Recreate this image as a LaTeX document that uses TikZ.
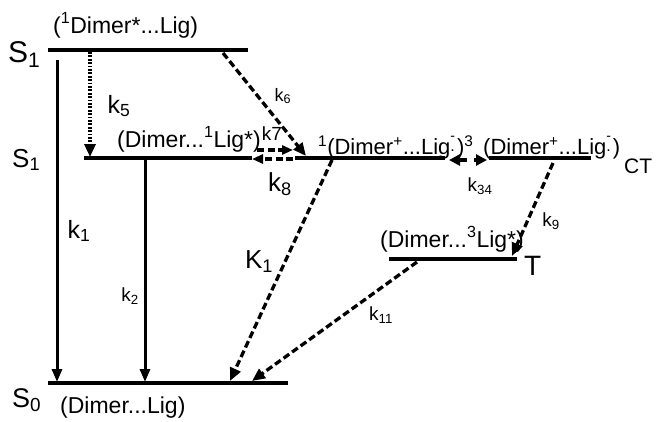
\documentclass[tikz,border=0pt]{standalone}
\usepackage{fontspec}
\setmainfont{Liberation Sans}
\usetikzlibrary{arrows.meta}
\newcommand{\ligrad}{Lig\makebox[0.3em][l]{\rlap{\raisebox{0.62em}{\fontsize{14}{14}\selectfont -}}\raisebox{0.12em}{\fontsize{16}{16}\selectfont .}}}
\begin{document}
\begin{tikzpicture}[x=1pt,y=-1pt,
  level/.style={line width=4.6pt},
  solidarr/.style={line width=3pt,-{Triangle[length=13pt,width=10pt]}},
  dasharr/.style={line width=3.3pt,dash pattern=on 7pt off 3.5pt,-{Triangle[length=13pt,width=11pt]}},
  dotarr/.style={line width=3.2pt,dash pattern=on 1.8pt off 1.6pt,-{Triangle[length=13pt,width=11pt]}},
  headarr/.style={line width=3.2pt,-{Triangle[length=11pt,width=11pt]}},
  lab/.style={inner sep=0pt,font=\fontsize{23}{26}\selectfont},
  kl/.style={inner sep=0pt,font=\fontsize{#1}{#1}\selectfont},
  kl/.default=20]
\useasboundingbox (0,0) rectangle (656,421);
% levels
\coordinate (s1a) at (48,50);  \coordinate (s1b) at (248,50);
\coordinate (m1a) at (84,158); \coordinate (m1b) at (252,158);
\coordinate (m2a) at (295,158);\coordinate (m2b) at (445,158);
\coordinate (cta) at (489,158);\coordinate (ctb) at (591,158);
\coordinate (ta) at (389,259); \coordinate (tb) at (517,259);
\coordinate (s0a) at (48,383); \coordinate (s0b) at (288,383);
\draw[level] (s1a)--(s1b);
\draw[level] (m1a)--(m1b);
\draw[level] (m2a)--(m2b);
\draw[level] (cta)--(ctb);
\draw[level] (ta)--(tb);
\draw[level] (s0a)--(s0b);
% state labels
\node[kl=30,anchor=base west] (ls1) at (8,62) {S\textsubscript{1}};
\node[kl=26,anchor=base west] (ls1m) at (12,167) {S\textsubscript{1}};
\node[kl=27,anchor=base west] (ls0) at (12,407) {S\textsubscript{0}};
\node[kl=28,anchor=base west] (lt) at (524,275) {T};
\node[kl=21,anchor=base west] (lct) at (624,173) {CT};
\node[lab,anchor=base west] (t1) at (53,33) {(\textsuperscript{1}Dimer*...Lig)};
\node[lab,anchor=base west] (t2) at (117,147) {(Dimer...\textsuperscript{1}Lig*)};
\node[lab,font=\fontsize{22}{24}\selectfont,anchor=base west] (t3) at (318,154) {\textsuperscript{1}(Dimer\textsuperscript{+}...\ligrad)\textsuperscript{3}};
\node[lab,font=\fontsize{22}{24}\selectfont,anchor=base west] (t4) at (483,154) {(Dimer\textsuperscript{+}...\ligrad)};
\node[lab,anchor=base west] (t5) at (380,247) {(Dimer...\textsuperscript{3}Lig*)};
\node[lab,anchor=base west] (t6) at (60,413) {(Dimer...Lig)};
% arrow end points
\coordinate (k1s) at (57,60);   \coordinate (k1e) at (57,382);
\coordinate (k2s) at (145,158); \coordinate (k2e) at (145,382);
\coordinate (k5s) at (90,52);   \coordinate (k5e) at (90,157);
\coordinate (k6s) at (223,53);  \coordinate (k6e) at (306,156);
\coordinate (k7s) at (257,150); \coordinate (k7e) at (293,150);
\coordinate (k8s) at (293,159); \coordinate (k8e) at (252,159);
\coordinate (K1s) at (332,160); \coordinate (K1e) at (230,381);
\coordinate (k9s) at (553,163); \coordinate (k9e) at (512,256);
\coordinate (k11s) at (417,262);\coordinate (k11e) at (252,381);
\coordinate (k34a) at (467,160);\coordinate (k34b) at (449,160);
\coordinate (k34c) at (474,160);\coordinate (k34d) at (487,160);
% arrows
\draw[solidarr] (k1s)--(k1e);
\draw[solidarr] (k2s)--(k2e);
\draw[dotarr] (k5s)--(k5e);
\draw[dasharr] (k6s)--(k6e);
\draw[dasharr,-{Triangle[length=11pt,width=9pt]}] (k7s)--(k7e);
\draw[dasharr,-{Triangle[length=11pt,width=9pt]}] (k8s)--(k8e);
\draw[dasharr] (K1s)--(K1e);
\draw[dasharr] (k9s)--(k9e);
\draw[dasharr] (k11s)--(k11e);
\draw[headarr] (k34a)--(k34b);
\draw[headarr] (k34c)--(k34d);
% rate labels
\node[kl=25] (lk5) at (119,106) {k\textsubscript{5}};
\node[kl=18] (lk6) at (283,96) {k\textsubscript{6}};
\node[kl=19] (lk7) at (272,134) {k7};
\node[kl=26] (lk8) at (280,184) {k\textsubscript{8}};
\node[kl=25] (lk1) at (79,231) {k\textsubscript{1}};
\node[kl=19] (lk2) at (130,296) {k\textsubscript{2}};
\node[kl=26] (lK1) at (259,262) {K\textsubscript{1}};
\node[kl=19] (lk34) at (480,186) {k\textsubscript{34}};
\node[kl=19] (lk9) at (551,221) {k\textsubscript{9}};
\node[kl=19] (lk11) at (381,315) {k\textsubscript{11}};
\end{tikzpicture}
\end{document}
